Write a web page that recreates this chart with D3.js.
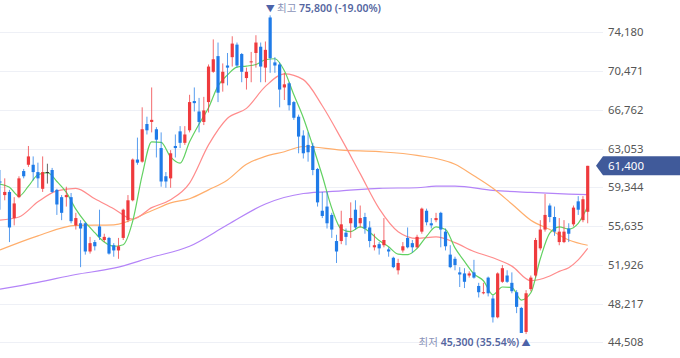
<!DOCTYPE html>
<html><head><meta charset="utf-8">
<script src="https://cdn.jsdelivr.net/npm/d3@7"></script>
<style>html,body{margin:0;padding:0;background:#fff;} svg{display:block;}</style>
</head><body><svg id="c" width="680" height="358"></svg>
<script>
// ---- data (daily candles, oldest -> newest) ----
const opens = [59900,58600,58900,56400,58400,60900,61500,61500,60800,59200,60800,61000,59100,58400,58400,58400,55700,55900,55900,53200,54100,55600,54300,54500,53800,53300,54500,56200,58100,62000,61800,65400,65600,64900,63100,60400,60200,63300,64700,63600,64800,67600,66600,65600,67500,70400,71900,69300,71000,71800,73000,72100,69800,71300,72200,72800,70800,75600,71300,71100,68900,69300,67500,66100,64300,63400,63300,61100,57100,57500,56700,54200,54200,55000,55900,57200,55900,56500,55500,53600,53900,53800,53400,52600,51400,53300,54500,54000,53600,55100,57100,55900,56200,56900,55100,52900,52500,51200,51100,50900,51200,49900,49200,50700,48700,46900,50300,50900,50200,49300,47800,45500,49600,50900,53500,55300,57600,56500,54100,54100,55400,55800,58000,56200,57000];
const highs = [61000,60200,59100,58400,60400,61100,63300,62300,61700,62300,61600,61200,59200,58600,59400,58800,56900,56200,56000,54600,54300,57200,54900,54600,54000,54500,57300,58600,62100,64100,67000,66100,68900,65100,64600,60800,62900,64400,65200,65200,68200,68900,67900,68000,71100,73500,73200,71200,72200,73800,73200,72200,70800,72300,73900,73200,73300,75800,71800,71300,70300,69400,67600,66300,64800,64600,63600,61200,58900,58900,56900,54800,57100,55400,57900,58100,57600,56900,56100,54900,54100,56400,53600,52700,52500,54100,55500,54300,54800,57400,57300,56400,56900,57000,55400,53800,52700,51700,51600,51300,52400,50200,50200,50800,49000,51200,51900,51400,51200,49500,47900,49500,50900,54500,56200,58700,57800,57500,56400,56200,55900,57600,58500,58500,61400];
const lows = [57200,58100,54100,55700,58300,60200,61300,60000,59300,58900,59700,58800,56700,56200,57500,55900,55300,51700,52900,53000,53300,54300,54100,52900,52700,52500,54300,56000,58000,61500,61700,64400,64600,62200,59400,59300,59300,62200,63100,63400,64600,66600,64600,65300,66500,70300,67500,68500,69100,70900,70800,69400,68700,69400,70800,69400,69400,70300,70300,67000,67700,66700,65800,62600,62100,61800,60500,57500,56400,55400,54500,52100,53900,53800,54500,55300,55500,54900,53600,53300,52900,53600,52700,51600,51000,53100,53500,53100,53500,54900,55700,55400,56000,53600,53300,51600,51400,49800,49700,50700,50600,48800,49100,48900,46400,46800,50200,50200,49200,47300,45400,45300,49400,50700,53300,55100,56000,54700,53800,54000,54100,55600,56700,56000,55900];
const closes = [59800,58900,55500,57800,60200,60400,62300,60800,60200,60800,60800,58900,57700,56900,58600,56100,56400,55400,53200,54000,53700,54600,54600,53000,53300,53700,57200,58100,62000,61700,64900,64800,65800,63900,59900,59900,62600,63100,63600,64400,67500,67400,65600,66700,70900,71600,68400,70400,70800,73100,71000,70400,70400,71400,73200,70900,72500,71700,71000,68700,69200,67200,66000,64200,62600,62700,61000,57900,56600,55900,55300,53200,55800,54600,56400,55500,56400,55400,54200,53800,53500,54300,53200,51700,52100,53700,53600,53600,54600,57300,56000,55700,56400,55300,53700,51700,51900,51000,50300,51100,50700,49300,49300,49200,46900,51100,51600,50300,49400,47900,45400,49200,50700,54300,55300,56700,56500,55100,55100,55100,54900,57400,57200,58200,61400];

// moving averages: [candle index, price]
const ma5 = [[0,59650],[2,59350],[4,58500],[6,59450],[8,60550],[10,60750],[12,59900],[14,58850],[16,57250],[18,56000],[20,55000],[22,54100],[24,53700],[26,53850],[28,56100],[30,60500],[32,63700],[34,63650],[36,62250],[38,61650],[40,63700],[42,65400],[44,66950],[46,69050],[48,70100],[50,70850],[52,70950],[54,71100],[56,71550],[58,71650],[60,70500],[62,68200],[64,66000],[66,63300],[68,60450],[70,57350],[72,55350],[74,55100],[76,55550],[78,55050],[80,54250],[82,53650],[84,52950],[86,52900],[88,53500],[90,54650],[92,55550],[94,55300],[96,53550],[98,52250],[100,51050],[102,50400],[104,49050],[106,49800],[108,49750],[110,48550],[112,49250],[114,52500],[116,54950],[118,55550],[120,55350],[122,55900],[124,57500]];
const ma20 = [[0,56200],[4,56500],[8,57950],[12,59000],[16,59250],[20,58250],[24,57300],[28,56300],[32,57400],[36,58150],[40,59750],[44,63400],[48,65950],[52,66900],[56,69000],[60,70200],[64,69650],[68,67150],[72,64000],[76,60650],[80,57300],[84,55100],[88,54450],[92,54600],[96,54050],[100,53200],[104,52600],[108,51800],[112,50400],[116,50850],[118,51300],[120,51650],[122,52400],[124,53500]];
const ma60 = [[0,53350],[8,54700],[16,55700],[24,55750],[32,57100],[36,57850],[40,58250],[44,59100],[48,60050],[52,61550],[56,62300],[60,62750],[64,63250],[72,62900],[80,62750],[88,62400],[96,61550],[100,60450],[104,59250],[108,57750],[112,56200],[116,55300],[120,54300],[124,53800]];
const ma120 = [[0,49600],[8,50250],[16,51000],[24,51600],[32,52650],[40,53700],[48,55750],[56,57750],[64,58750],[72,59000],[80,59250],[88,59300],[92,59450],[96,59450],[104,59050],[112,58850],[120,58700],[124,58650]];

const yTicks = [74180,70471,66762,63053,59344,55635,51926,48217,44508];
const lastPrice = 61400;
const maxLabel = ["최고", 75800];
const minLabel = ["최저", 45300];

// ---- drawing ----
const W = 680, H = 358, plotRight = 603;
const svg = d3.select("#c");
const n = closes.length;
const x = d3.scaleLinear().domain([0, n - 1]).range([0, 587.7]);
const y = d3.scaleLinear().domain([44508, 74180]).range([342.3, 32.3]);
const font = "'Noto Sans','Noto Sans CJK KR',sans-serif";
const loc = d3.formatLocale({decimal: ".", thousands: ",", grouping: [3], currency: ["", ""], minus: "-"});
const fmt = loc.format(",");
const pct = loc.format(".2f");

svg.append("defs").append("clipPath").attr("id", "plot")
  .append("rect").attr("x", 0).attr("y", 0).attr("width", plotRight).attr("height", H);

// gridlines
svg.append("g").selectAll("line").data(yTicks).join("line")
  .attr("x1", 0).attr("x2", plotRight)
  .attr("y1", d => Math.round(y(d)) + 0.5).attr("y2", d => Math.round(y(d)) + 0.5)
  .attr("stroke", "#eef0f6").attr("stroke-width", 1);

// axis labels
const axis = d3.axisRight(y).tickValues(yTicks).tickFormat(fmt).tickSize(0).tickPadding(5);
const ag = svg.append("g").attr("transform", `translate(${plotRight},0)`).call(axis);
ag.select(".domain").remove();
ag.selectAll("text").attr("fill", "#555").style("font-family", font).style("font-size", "11.3px");

const plot = svg.append("g").attr("clip-path", "url(#plot)");

// moving average lines
const line = d3.line().x(d => x(d[0])).y(d => y(d[1])).curve(d3.curveMonotoneX);
[[ma120, "#b484f8"], [ma60, "#ffae6c"], [ma20, "#ff8c8c"], [ma5, "#62d162"]].forEach(([data, col]) => {
  plot.append("path").datum(data).attr("d", line).attr("fill", "none")
    .attr("stroke", col).attr("stroke-width", 1.2);
});

// candles
const idx = d3.range(n);
const colorOf = i => closes[i] > opens[i] ? "#ef3a3d" : (closes[i] < opens[i] ? "#1f7be8" : "#333");
const cg = plot.append("g");
cg.selectAll("line").data(idx).join("line")
  .attr("x1", i => x(i)).attr("x2", i => x(i))
  .attr("y1", i => y(highs[i])).attr("y2", i => y(lows[i]))
  .attr("stroke", colorOf).attr("stroke-width", 1).attr("stroke-opacity", 0.75);
const bw = 3.2;
cg.selectAll("rect").data(idx).join("rect")
  .attr("x", i => x(i) - bw / 2).attr("width", bw)
  .attr("y", i => y(Math.max(opens[i], closes[i])))
  .attr("height", i => Math.max(1, Math.abs(y(opens[i]) - y(closes[i]))))
  .attr("fill", colorOf);

// max / min annotations
const iMax = highs.indexOf(maxLabel[1]);
const iMin = lows.indexOf(minLabel[1]);
const tTop = svg.append("text").attr("x", x(iMax) - 4.5).attr("y", 12)
  .style("font-family", font).style("font-size", "10.5px");
tTop.append("tspan").text("▼ ").attr("fill", "#4d63a8").style("font-size", "9px");
tTop.append("tspan").text(maxLabel[0] + " ").attr("fill", "#8a93b8");
tTop.append("tspan").text(`${fmt(maxLabel[1])} (${pct((lastPrice - maxLabel[1]) / maxLabel[1] * 100)}%)`)
  .attr("fill", "#55669f").attr("font-weight", 600);

const tBot = svg.append("text").attr("x", x(iMin) + 4.5).attr("y", 346).attr("text-anchor", "end")
  .style("font-family", font).style("font-size", "10.5px");
tBot.append("tspan").text(minLabel[0] + " ").attr("fill", "#8a93b8");
tBot.append("tspan").text(`${fmt(minLabel[1])} (${pct((lastPrice - minLabel[1]) / minLabel[1] * 100)}%)`)
  .attr("fill", "#55669f").attr("font-weight", 600);
tBot.append("tspan").text(" ▲").attr("fill", "#4d63a8").style("font-size", "9px");

// last price tag
const yc = y(lastPrice);
svg.append("path")
  .attr("d", `M596,${yc} L603,${yc - 9.5} L${W},${yc - 9.5} L${W},${yc + 9.5} L603,${yc + 9.5} Z`)
  .attr("fill", "#405a9a");
svg.append("text").attr("x", 608).attr("y", yc).attr("dy", "0.35em")
  .attr("fill", "#fff").style("font-family", font).style("font-size", "11.5px")
  .text(fmt(lastPrice));
</script></body></html>
